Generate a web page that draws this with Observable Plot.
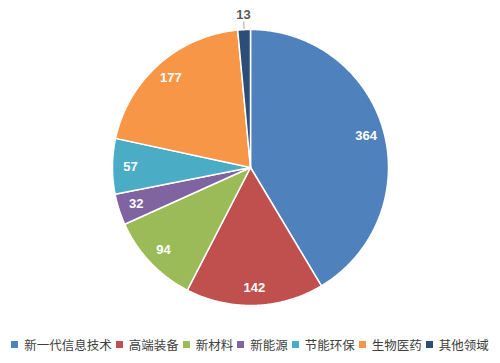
<!DOCTYPE html>
<html>
<head>
<meta charset="utf-8">
<script src="https://cdn.jsdelivr.net/npm/d3@7"></script>
<script src="https://cdn.jsdelivr.net/npm/@observablehq/plot@0.6"></script>
<style>
  body { margin: 0; background: #fff; }
  #chart { width: 500px; height: 363px; position: relative; }
  .legend { display: flex; justify-content: center; align-items: center; height: 38px; font-family: "Noto Sans CJK SC", sans-serif; font-size: 12.5px; color: #404040; }
  .legend .item { display: flex; align-items: center; margin: 0 2px; }
  .legend .sw { width: 7px; height: 7px; margin-right: 6px; }
</style>
</head>
<body>
<div id="chart"></div>
<script>
const categories = ["新一代信息技术", "高端装备", "新材料", "新能源", "节能环保", "生物医药", "其他领域"];
const values = [364, 142, 94, 32, 57, 177, 13];
const colors = ["#4F81BD", "#C0504D", "#9BBB59", "#8064A2", "#4BACC6", "#F79646", "#2C4D75"];

const data = categories.map((c, i) => ({category: c, value: values[i]}));
const arcs = d3.pie().sort(null).value(d => d.value)(data);

// polygon vertices for each slice (unit radius)
const poly = [];
arcs.forEach(a => {
  const n = Math.max(4, Math.ceil((a.endAngle - a.startAngle) / 0.01));
  poly.push({category: a.data.category, x: 0, y: 0});
  for (let k = 0; k <= n; k++) {
    const t = a.startAngle + (a.endAngle - a.startAngle) * k / n;
    poly.push({category: a.data.category, x: Math.sin(t), y: Math.cos(t)});
  }
  poly.push({category: a.data.category, x: 0, y: 0});
});

const labels = arcs.map(a => {
  const m = (a.startAngle + a.endAngle) / 2;
  const small = a.data.value < 20;
  const r = small ? 1.11 : 0.87;
  return {label: String(a.data.value), x: r * Math.sin(m), y: r * Math.cos(m), small, m};
});
const leaders = labels.filter(d => d.small).map(d => ({
  x1: 1.005 * Math.sin(d.m), y1: 1.005 * Math.cos(d.m),
  x2: 1.06 * Math.sin(d.m), y2: 1.06 * Math.cos(d.m)
}));

const plot = Plot.plot({
  width: 500,
  height: 325,
  marginLeft: 112,
  marginRight: 112,
  marginTop: 29,
  marginBottom: 20,
  x: {domain: [-1, 1], axis: null},
  y: {domain: [-1, 1], axis: null},
  color: {domain: categories, range: colors},
  marks: [
    Plot.line(poly, {x: "x", y: "y", z: "category", fill: "category", stroke: "white", strokeWidth: 1.5, strokeLinejoin: "round"}),
    Plot.link(leaders, {x1: "x1", y1: "y1", x2: "x2", y2: "y2", stroke: "#a6a6a6", strokeWidth: 1}),
    Plot.text(labels.filter(d => !d.small), {x: "x", y: "y", text: "label", fill: "white", fontWeight: "bold", fontSize: 13, fontFamily: "Liberation Sans, sans-serif"}),
    Plot.text(labels.filter(d => d.small), {x: "x", y: "y", text: "label", fill: "#595959", fontWeight: "bold", fontSize: 13, fontFamily: "Liberation Sans, sans-serif"})
  ]
});
document.getElementById("chart").appendChild(plot);

const legend = document.createElement("div");
legend.className = "legend";
categories.forEach((c, i) => {
  const it = document.createElement("div");
  it.className = "item";
  const sw = document.createElement("span");
  sw.className = "sw";
  sw.style.background = colors[i];
  const tx = document.createElement("span");
  tx.textContent = c;
  it.appendChild(sw);
  it.appendChild(tx);
  legend.appendChild(it);
});
document.getElementById("chart").appendChild(legend);
</script>
</body>
</html>
